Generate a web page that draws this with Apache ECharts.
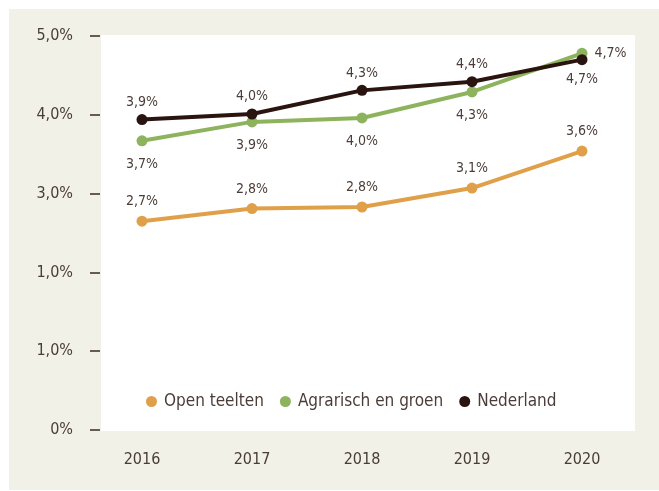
<!DOCTYPE html>
<html>
<head>
<meta charset="utf-8">
<script src="https://cdn.jsdelivr.net/npm/echarts@6/dist/echarts.min.js"></script>
<style>
  html, body { margin: 0; padding: 0; background: #ffffff; }
  #chart { width: 659px; height: 491px; }
</style>
</head>
<body>
<div id="chart"></div>
<script>
const years = ["2016", "2017", "2018", "2019", "2020"];
const yTickLabels = ["0%", "1,0%", "1,0%", "3,0%", "4,0%", "5,0%"];

const openTeelten = [2.65, 2.81, 2.83, 3.07, 3.54];
const openTeeltenLabels = ["2,7%", "2,8%", "2,8%", "3,1%", "3,6%"];

const agrarisch = [3.67, 3.91, 3.96, 4.29, 4.78];
const agrarischLabels = ["3,7%", "3,9%", "4,0%", "4,3%", "4,7%"];

const nederland = [3.94, 4.01, 4.31, 4.42, 4.70];
const nederlandLabels = ["3,9%", "4,0%", "4,3%", "4,4%", "4,7%"];

const FONT = "DejaVu Sans Condensed";
const TEXT = "#4a3d38";

// label side per series, last point can differ
const toData = (vals, labels, lastPos) =>
  vals.map((v, i) => {
    const item = { value: v, labelText: labels[i] };
    if (i === vals.length - 1 && lastPos) {
      item.label = { position: lastPos, distance: 7 };
    }
    return item;
  });

const mkSeries = (name, color, vals, labels, pos, dist, lastPos) => ({
  name: name,
  type: "line",
  data: toData(vals, labels, lastPos),
  symbol: "circle",
  symbolSize: 11,
  lineStyle: { width: 4, color: color },
  itemStyle: { color: color },
  label: {
    show: true,
    position: pos,
    distance: dist,
    fontFamily: FONT,
    fontSize: 14,
    color: TEXT,
    formatter: (p) => p.data.labelText,
  },
});

const chart = echarts.init(document.getElementById("chart"));
chart.setOption({
  backgroundColor: "#ffffff",
  animation: false,
  graphic: [
    { type: "rect", shape: { x: 9, y: 9, width: 650, height: 481 }, style: { fill: "#f1f1e8" }, z: -10, silent: true },
    { type: "rect", shape: { x: 101, y: 35, width: 534, height: 396 }, style: { fill: "#ffffff" }, z: -9, silent: true },
  ],
  grid: { left: 142, right: 77, top: 36, bottom: 61 },
  legend: {
    left: 141,
    top: 388,
    icon: "circle",
    itemWidth: 11,
    itemHeight: 11,
    itemGap: 16,
    textStyle: { fontFamily: FONT, fontSize: 17, color: TEXT, padding: [0, 0, 0, 2] },
    data: ["Open teelten", "Agrarisch en groen", "Nederland"],
  },
  xAxis: {
    type: "category",
    data: years,
    boundaryGap: false,
    axisLine: { show: false },
    axisTick: { show: false },
    axisLabel: { fontFamily: FONT, fontSize: 16, color: TEXT, margin: 22 },
  },
  yAxis: {
    type: "value",
    min: 0,
    max: 5,
    interval: 1,
    offset: 42,
    splitLine: { show: false },
    axisLine: { show: false },
    axisTick: { show: true, length: 10, lineStyle: { color: "#3b2a25", width: 1.5 } },
    axisLabel: {
      fontFamily: FONT,
      fontSize: 16,
      color: TEXT,
      margin: 27,
      formatter: (v) => yTickLabels[Math.round(v)],
    },
  },
  series: [
    mkSeries("Open teelten", "#e0a04a", openTeelten, openTeeltenLabels, "top", 7),
    mkSeries("Agrarisch en groen", "#8db35c", agrarisch, agrarischLabels, "bottom", 11, "right"),
    mkSeries("Nederland", "#2a1410", nederland, nederlandLabels, "top", 5, "bottom"),
  ],
});
</script>
</body>
</html>
